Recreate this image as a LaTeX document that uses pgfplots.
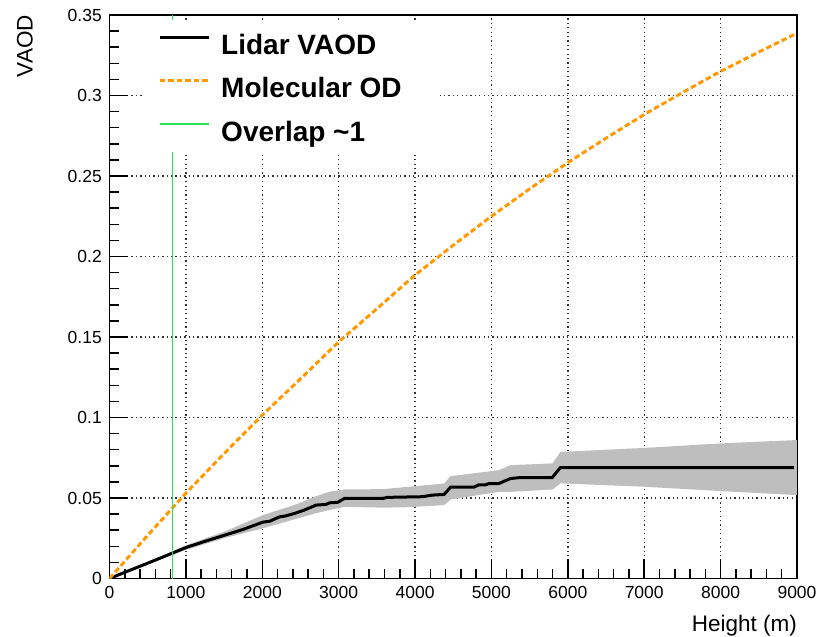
\documentclass[border=0pt]{standalone}
\usepackage{pgfplots}
\pgfplotsset{compat=1.18}
\usepackage{fontspec}
\setmainfont{Liberation Sans}
\definecolor{bandgray}{RGB}{190,190,190}
\definecolor{rootorange}{RGB}{255,153,0}
\definecolor{rootgreen}{RGB}{40,225,90}
\begin{document}
\begin{tikzpicture}
\begin{axis}[
  name=ax,
  scale only axis,
  width=687.5bp, height=563.5bp,
  xmin=0, xmax=9000, ymin=0, ymax=0.35,
  xtick={0,1000,2000,3000,4000,5000,6000,7000,8000,9000},
  ytick={0,0.05,0.1,0.15,0.2,0.25,0.3,0.35},
  minor x tick num=4, minor y tick num=4,
  tick pos=left, tick align=inside,
  major tick length=19bp, minor tick length=9.5bp,
  every tick/.style={black, line width=1.5bp},
  grid=major,
  major grid style={draw=black!80, line width=1.4bp, dash pattern=on 1.3bp off 3.1bp},
  axis line style={black, line width=1.6bp},
  /pgf/number format/assume math mode=true,
  tick label style={font=\fontsize{17.5bp}{20bp}\selectfont},
  xticklabel style={anchor=base, yshift=-19.5bp, inner sep=0pt, /pgf/number format/set thousands separator={}},
  yticklabel style={anchor=east, xshift=-7.5bp, inner sep=0pt, /pgf/number format/fixed, /pgf/number format/precision=2},
  scaled y ticks=false, scaled x ticks=false,
  legend cell align=left,
  legend image code/.code={\draw[#1] (0bp,9.5bp) -- (49bp,9.5bp);},
  legend style={at={(rel axis cs:0.0473,0.9911)}, anchor=north west, draw=none, fill=none,
    inner xsep=16bp, inner ysep=13bp, row sep=16.5bp, column sep=11bp,
    font=\bfseries\fontsize{28bp}{32bp}\selectfont,
    nodes={inner sep=0pt, text height=21bp, text depth=6bp}},
]
% uncertainty band (upper edge forward, lower edge backward)
\addplot[fill=bandgray, draw=none, forget plot] coordinates {
 (0,0) (500,0.0100) (1000,0.0206) (1500,0.0290) (2000,0.0392) (2440,0.0460)
 (2700,0.0510) (2878,0.0539) (3075,0.0553) (3575,0.0555) (3923,0.0570)
 (4380,0.0590) (4467,0.0636) (5100,0.0673) (5250,0.0704) (5800,0.0715)
 (5903,0.0786) (7000,0.0811) (8000,0.0839) (9000,0.0860)
 (9000,0.0518) (8000,0.0543) (7000,0.0570) (5903,0.0591) (5800,0.0553)
 (5250,0.0538) (5100,0.0538) (4467,0.0491) (4380,0.0456) (3923,0.0443)
 (3575,0.0440) (3075,0.0445) (2878,0.0425) (2700,0.0405) (2440,0.0370)
 (2000,0.0311) (1500,0.0250) (1000,0.0178) (500,0.0090) (0,0)
} -- cycle;
% Lidar VAOD
\addplot[black, line width=3bp] coordinates {
 (0,0) (250,0.0048) (500,0.0095) (825,0.0158) (1000,0.0192) (1250,0.0231)
 (1500,0.0268) (1750,0.0305) (2008,0.0350) (2100,0.0356) (2226,0.0383)
 (2300,0.0388) (2422,0.0404) (2550,0.0425) (2705,0.0456) (2836,0.0460)
 (2878,0.0470) (2987,0.0473) (3075,0.0497) (3575,0.0497) (3640,0.0504)
 (4097,0.0508) (4227,0.0518) (4380,0.0522) (4467,0.0568) (4772,0.0568)
 (4837,0.0582) (4924,0.0582) (4967,0.0590) (5098,0.0590) (5250,0.0621)
 (5359,0.0626) (5794,0.0626) (5903,0.0689) (8960,0.0689)
};
\addlegendentry{Lidar VAOD}
% Molecular OD
\addplot[rootorange, line width=3bp, dash pattern=on 5.5bp off 3bp] coordinates {
 (0,0) (500,0.0268) (1000,0.0530) (1500,0.0776) (2000,0.1015) (2500,0.1240)
 (3000,0.1470) (3500,0.1675) (4000,0.1885) (4500,0.2070) (5000,0.2250)
 (5500,0.2420) (6000,0.2583) (6500,0.2735) (7000,0.2882) (7500,0.3018)
 (8000,0.3150) (8500,0.3270) (8970,0.3380)
};
\addlegendentry{Molecular OD}
% Overlap ~1
\addplot[rootgreen, line width=1.5bp] coordinates {(825,0) (825,0.35)};
\addlegendentry{Overlap \textasciitilde 1}
\fill[white] (rel axis cs:0.0473,0.9911) rectangle (rel axis cs:0.4764,0.7569);
\end{axis}
\node[rotate=90, anchor=south east, inner sep=0pt, font=\fontsize{22.5bp}{26bp}\selectfont]
  at ([xshift=-76.5bp]ax.north west) {VAOD};
\node[anchor=base east, inner sep=0pt, font=\fontsize{22.5bp}{26bp}\selectfont]
  at ([yshift=-52.5bp]ax.south east) {Height (m)};
\pgfresetboundingbox
\path ([xshift=-109.5bp, yshift=-58.5bp]ax.south west) rectangle ++(817bp,637bp);
\end{tikzpicture}
\end{document}
